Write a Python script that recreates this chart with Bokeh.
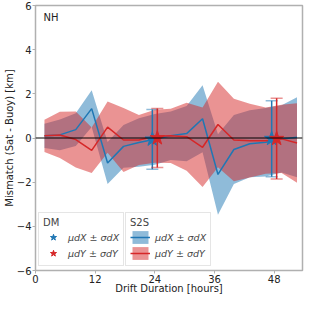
import numpy as np
from bokeh.plotting import figure
from bokeh.models import ColumnDataSource, Legend, LegendItem, Label, Span, Range1d
from bokeh.embed import file_html
from bokeh.resources import INLINE

# S2S drift-duration bins (hours)
hours = [1.8, 4.9, 8.1, 11.3, 14.5, 17.7, 20.8, 24.0, 27.2, 30.4, 33.6, 36.7, 39.9, 43.1, 46.3, 49.5, 52.6]
dx_mean = [0.10, 0.14, 0.38, 1.33, -1.13, -0.38, -0.20, -0.06, 0.10, 0.20, 0.87, -1.65, -0.52, -0.26, -0.19, -0.04, 0.03]
dx_std = [0.55, 0.70, 0.74, 0.83, 0.95, 0.97, 1.10, 1.15, 1.10, 1.25, 1.52, 1.82, 1.56, 1.52, 1.55, 1.52, 1.81]
dy_mean = [0.10, 0.14, -0.07, -0.56, 0.49, -0.09, -0.09, 0.08, 0.10, 0.06, -0.42, 0.61, -0.09, -0.12, -0.12, -0.04, -0.23]
dy_std = [0.73, 1.05, 1.27, 1.03, 1.16, 1.45, 1.13, 1.20, 1.23, 1.54, 1.80, 1.94, 1.87, 1.67, 1.50, 1.55, 1.80]

# DM points
dm_hours_x = [23.5, 47.5]
dm_dx_mean = [-0.06, -0.03]
dm_dx_std = [1.35, 1.72]
dm_hours_y = [24.5, 48.5]
dm_dy_mean = [0.00, -0.03]
dm_dy_std = [1.34, 1.83]

x_ticks = [0, 12, 24, 36, 48]
y_ticks = [-6, -4, -2, 0, 2, 4, 6]

BLUE = "#1f77b4"
RED = "#d62728"
FONT = "DejaVu Sans"
GREY = "#b0b0b0"

p = figure(width=304, height=296, x_range=Range1d(0, 53.7), y_range=Range1d(-6, 6),
           output_backend="svg", toolbar_location=None,
           min_border_left=0, min_border_right=2, min_border_top=5, min_border_bottom=0)
p.xgrid.visible = False
p.ygrid.visible = False
p.outline_line_color = GREY
p.outline_line_width = 1.5
p.background_fill_color = "white"
p.border_fill_color = "white"

def band_src(h, m, s):
    m = np.array(m); s = np.array(s)
    return ColumnDataSource(dict(x=h, m=m, lo=m - s, hi=m + s))

sx = band_src(hours, dx_mean, dx_std)
sy = band_src(hours, dy_mean, dy_std)

bx = p.varea(x="x", y1="lo", y2="hi", source=sx, fill_color=BLUE, fill_alpha=0.5)
by = p.varea(x="x", y1="lo", y2="hi", source=sy, fill_color=RED, fill_alpha=0.5)
lx = p.line(x="x", y="m", source=sx, line_color=BLUE, line_width=1.5)
ly = p.line(x="x", y="m", source=sy, line_color=RED, line_width=1.5)

p.add_layout(Span(location=0, dimension="width", line_color="black", line_width=1.2))

def dm(h, m, s, color):
    m = np.array(m); s = np.array(s)
    src = ColumnDataSource(dict(x=h, m=m, lo=m - s, hi=m + s))
    p.segment(x0="x", y0="lo", x1="x", y1="hi", source=src, line_color=color, line_width=1.5)
    p.scatter(x="x", y="hi", source=src, marker="dash", size=12, line_color=color, line_alpha=0.5, line_width=1.5)
    p.scatter(x="x", y="lo", source=src, marker="dash", size=12, line_color=color, line_alpha=0.5, line_width=1.5)
    return p.scatter(x="x", y="m", source=src, marker="star", size=15, fill_color=color, line_color=color)

stx = dm(dm_hours_x, dm_dx_mean, dm_dx_std, BLUE)
sty = dm(dm_hours_y, dm_dy_mean, dm_dy_std, RED)

for ax in (p.xaxis[0], p.yaxis[0]):
    ax.axis_line_color = None
    ax.major_tick_line_color = GREY
    ax.major_tick_out = 3
    ax.major_tick_in = 0
    ax.minor_tick_line_color = None
    ax.major_label_text_font = FONT
    ax.major_label_text_font_size = "10px"
    ax.major_label_text_color = "#222222"
    ax.axis_label_text_font = FONT
    ax.axis_label_text_font_size = "10px"
    ax.axis_label_text_font_style = "normal"
    ax.axis_label_text_color = "#222222"
    ax.major_label_standoff = 1

p.xaxis.axis_label_standoff = -3
p.yaxis.axis_label_standoff = -1
p.xaxis.ticker = x_ticks
p.yaxis.ticker = y_ticks
p.yaxis.major_label_overrides = {t: (str(t).replace("-", "\u2212")) for t in y_ticks}
p.xaxis.axis_label = "Drift Duration [hours]"
p.yaxis.axis_label = "Mismatch (Sat - Buoy) [km]"

p.add_layout(Label(x=1.6, y=5.2, text="NH",
                   text_font=FONT, text_font_size="10px", text_color="#222222"))

def mk_legend(title, items, loc):
    lg = Legend(items=items, title=title, location=loc, orientation="vertical")
    lg.title_text_font = FONT
    lg.title_text_font_size = "10px"
    lg.title_text_font_style = "normal"
    lg.label_text_font = FONT
    lg.label_text_font_size = "9.5px"
    lg.label_text_font_style = "italic"
    lg.border_line_color = "#cccccc"
    lg.border_line_width = 1
    lg.background_fill_alpha = 0.8
    lg.glyph_width = 20
    lg.glyph_height = 16
    lg.spacing = 0
    lg.padding = 4
    lg.margin = 0
    lg.label_standoff = 5
    lg.title_standoff = 1
    return lg

dm_leg = mk_legend("DM", [LegendItem(label="\u03bcdX \u00b1 \u03c3dX", renderers=[stx]),
                          LegendItem(label="\u03bcdY \u00b1 \u03c3dY", renderers=[sty])], (3, 4))
s2s_leg = mk_legend("S2S", [LegendItem(label="\u03bcdX \u00b1 \u03c3dX", renderers=[bx, lx]),
                            LegendItem(label="\u03bcdY \u00b1 \u03c3dY", renderers=[by, ly])], (90, 4))
p.add_layout(dm_leg)
p.add_layout(s2s_leg)

open("out.html", "w").write(file_html(p, INLINE))
